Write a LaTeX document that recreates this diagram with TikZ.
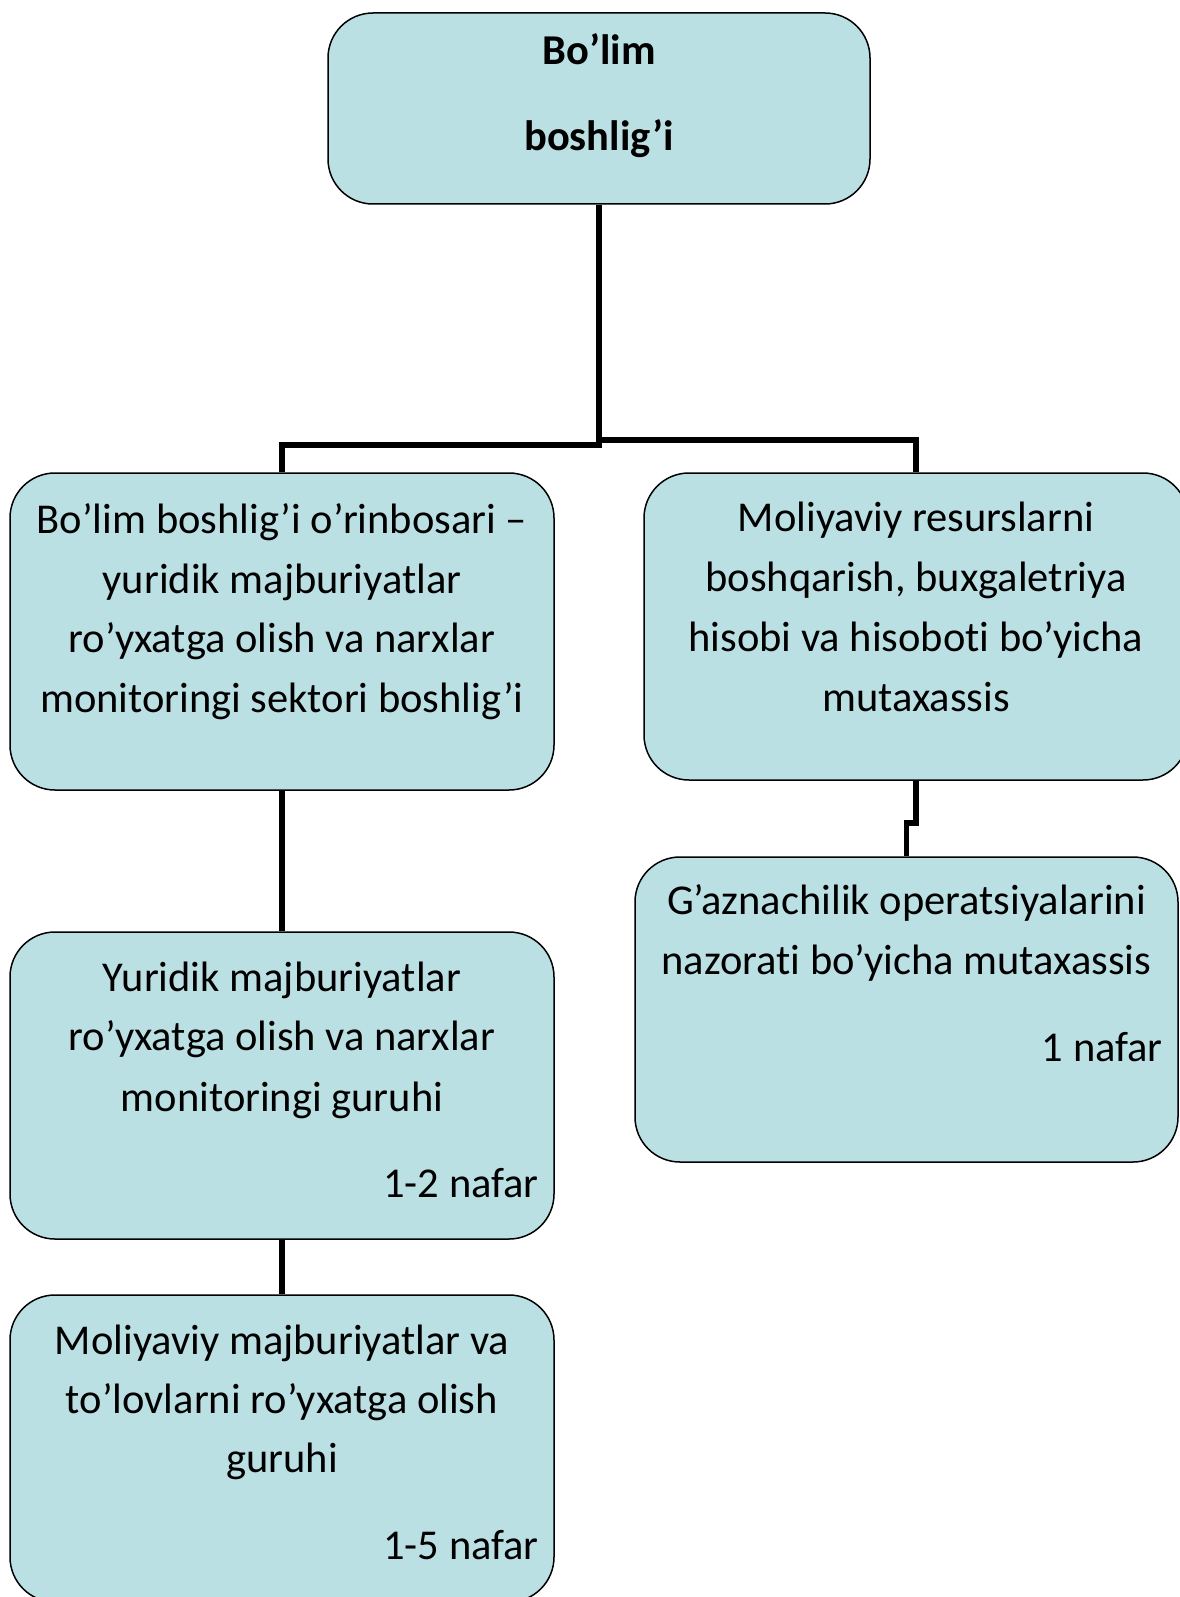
\documentclass[tikz,border=0pt]{standalone}
\usepackage{fontspec}
\setmainfont{Carlito}[Ligatures=NoCommon]
\definecolor{boxfill}{RGB}{187,224,228}
\begin{document}
\begin{tikzpicture}[x=1pt,y=-1pt,
  orgbox/.style={draw=black, line width=1.5pt, fill=boxfill, rounded corners=45pt, inner sep=0pt},
  txt/.style={anchor=base, inner sep=0pt, font=\fontsize{42.5}{60}\selectfont},
  txtr/.style={anchor=base east, inner sep=0pt, font=\fontsize{42.5}{60}\selectfont},
  ttl/.style={anchor=base, inner sep=0pt, font=\fontsize{42.5}{60}\selectfont\bfseries},
  link/.style={line width=5.5pt}]
\useasboundingbox (0,0) rectangle (1179,1597);
% boxes
\node[orgbox, minimum width=542pt, minimum height=191pt] (top) at (599,108.5) {};
\node[orgbox, minimum width=544pt, minimum height=317pt] (l1) at (282,631.5) {};
\node[orgbox, minimum width=544pt, minimum height=307pt] (r1) at (916,626.5) {};
\node[orgbox, minimum width=543pt, minimum height=305pt] (r2) at (906.5,1009.5) {};
\node[orgbox, minimum width=544pt, minimum height=307pt] (l2) at (282,1085.5) {};
\node[orgbox, minimum width=544pt, minimum height=307pt] (l3) at (282,1448.5) {};
% connectors
\coordinate (jL) at (599,445);
\coordinate (jR) at (599,440);
\coordinate (k1) at (916,823);
\coordinate (k2) at (906.5,823);
\draw[link] (top.south) -- (jL) -| (l1.north);
\draw[link] (jR) -| (r1.north);
\draw[link] (r1.south) -- (k1) -- (k2) -- (r2.north);
\draw[link] (l1.south) -- (l2.north);
\draw[link] (l2.south) -- (l3.north);
% texts
\node[ttl] (t1) at (599,65) {Bo’lim};
\node[ttl] (t2) at (599,151) {boshlig’i};
\node[txt] (a1) at (282,533) {Bo’lim boshlig’i o’rinbosari –};
\node[txt] (a2) at (282,593) {yuridik majburiyatlar};
\node[txt] (a3) at (282,652) {ro’yxatga olish va narxlar};
\node[txt] (a4) at (282,712) {monitoringi sektori boshlig’i};
\node[txt] (b1) at (916,531) {Moliyaviy resurslarni};
\node[txt] (b2) at (916,591) {boshqarish, buxgaletriya};
\node[txt] (b3) at (916,651) {hisobi va hisoboti bo’yicha};
\node[txt] (b4) at (916,711) {mutaxassis};
\node[txt] (c1) at (906.5,914) {G’aznachilik operatsiyalarini};
\node[txt] (c2) at (906.5,974) {nazorati bo’yicha mutaxassis};
\node[txtr] (c3) at (1163,1061) {1 nafar};
\node[txt] (d1) at (282,991) {Yuridik majburiyatlar};
\node[txt] (d2) at (282,1050) {ro’yxatga olish va narxlar};
\node[txt] (d3) at (282,1111) {monitoringi guruhi};
\node[txtr] (d4) at (539,1197) {1-2 nafar};
\node[txt] (e1) at (282,1354) {Moliyaviy majburiyatlar va};
\node[txt] (e2) at (282,1413) {to’lovlarni ro’yxatga olish};
\node[txt] (e3) at (282,1472) {guruhi};
\node[txtr] (e4) at (539,1559) {1-5 nafar};
\end{tikzpicture}
\end{document}
